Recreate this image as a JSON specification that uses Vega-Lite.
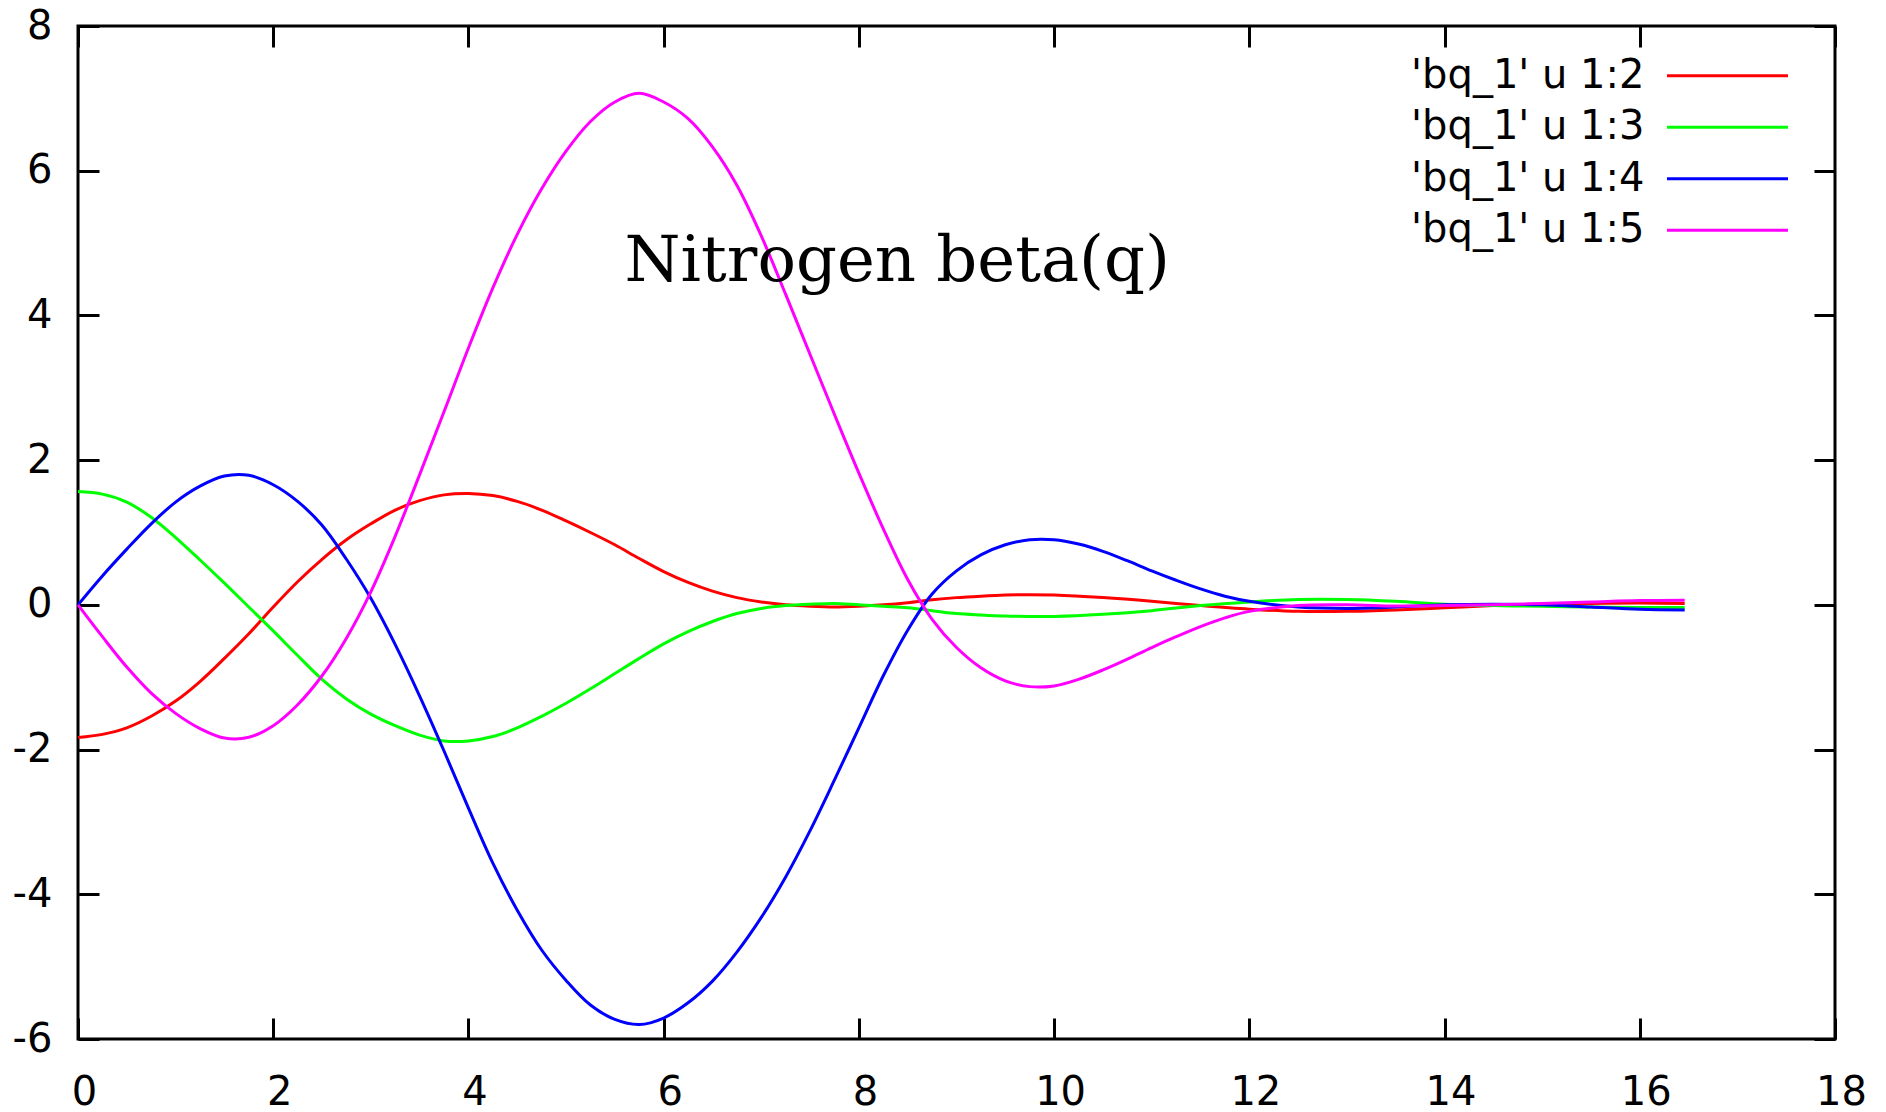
{
  "$schema": "https://vega.github.io/schema/vega-lite/v6.json",
  "width": 1757,
  "height": 1013,
  "autosize": {"type": "none"},
  "padding": {"left": 78, "top": 26, "right": 51, "bottom": 73},
  "background": "white",
  "config": {
    "view": {"stroke": "black", "strokeWidth": 3},
    "axis": {
      "domain": false, "grid": false, "title": null,
      "ticks": true, "tickSize": -21, "tickWidth": 3, "tickColor": "black",
      "labelFont": "DejaVu Sans", "labelFontSize": 40, "labelColor": "black",
      "labelFlush": false, "labelOverlap": false, "labelBound": false
    }
  },
  "datasets": {
    "curves": [
      {"s": "'bq_1' u 1:2", "q": 0, "v": -1.834},
      {"s": "'bq_1' u 1:2", "q": 0.25, "v": -1.79},
      {"s": "'bq_1' u 1:2", "q": 0.5, "v": -1.70},
      {"s": "'bq_1' u 1:2", "q": 0.75, "v": -1.54},
      {"s": "'bq_1' u 1:2", "q": 1, "v": -1.33},
      {"s": "'bq_1' u 1:2", "q": 1.25, "v": -1.06},
      {"s": "'bq_1' u 1:2", "q": 1.5, "v": -0.74},
      {"s": "'bq_1' u 1:2", "q": 1.75, "v": -0.40},
      {"s": "'bq_1' u 1:2", "q": 2, "v": -0.03},
      {"s": "'bq_1' u 1:2", "q": 2.25, "v": 0.32},
      {"s": "'bq_1' u 1:2", "q": 2.5, "v": 0.63},
      {"s": "'bq_1' u 1:2", "q": 2.75, "v": 0.90},
      {"s": "'bq_1' u 1:2", "q": 3, "v": 1.12},
      {"s": "'bq_1' u 1:2", "q": 3.25, "v": 1.31},
      {"s": "'bq_1' u 1:2", "q": 3.5, "v": 1.44},
      {"s": "'bq_1' u 1:2", "q": 3.75, "v": 1.52},
      {"s": "'bq_1' u 1:2", "q": 4, "v": 1.54},
      {"s": "'bq_1' u 1:2", "q": 4.25, "v": 1.51},
      {"s": "'bq_1' u 1:2", "q": 4.5, "v": 1.43},
      {"s": "'bq_1' u 1:2", "q": 4.75, "v": 1.31},
      {"s": "'bq_1' u 1:2", "q": 5, "v": 1.16},
      {"s": "'bq_1' u 1:2", "q": 5.25, "v": 1.00},
      {"s": "'bq_1' u 1:2", "q": 5.5, "v": 0.83},
      {"s": "'bq_1' u 1:2", "q": 5.75, "v": 0.64},
      {"s": "'bq_1' u 1:2", "q": 6, "v": 0.46},
      {"s": "'bq_1' u 1:2", "q": 6.25, "v": 0.31},
      {"s": "'bq_1' u 1:2", "q": 6.5, "v": 0.19},
      {"s": "'bq_1' u 1:2", "q": 6.75, "v": 0.10},
      {"s": "'bq_1' u 1:2", "q": 7, "v": 0.04},
      {"s": "'bq_1' u 1:2", "q": 7.25, "v": 0.0},
      {"s": "'bq_1' u 1:2", "q": 7.5, "v": -0.02},
      {"s": "'bq_1' u 1:2", "q": 7.75, "v": -0.03},
      {"s": "'bq_1' u 1:2", "q": 8, "v": -0.02},
      {"s": "'bq_1' u 1:2", "q": 8.25, "v": 0.0},
      {"s": "'bq_1' u 1:2", "q": 8.5, "v": 0.03},
      {"s": "'bq_1' u 1:2", "q": 8.75, "v": 0.07},
      {"s": "'bq_1' u 1:2", "q": 9, "v": 0.10},
      {"s": "'bq_1' u 1:2", "q": 9.25, "v": 0.12},
      {"s": "'bq_1' u 1:2", "q": 9.5, "v": 0.135},
      {"s": "'bq_1' u 1:2", "q": 9.75, "v": 0.14},
      {"s": "'bq_1' u 1:2", "q": 10, "v": 0.135},
      {"s": "'bq_1' u 1:2", "q": 10.5, "v": 0.10},
      {"s": "'bq_1' u 1:2", "q": 11, "v": 0.05},
      {"s": "'bq_1' u 1:2", "q": 11.5, "v": -0.01},
      {"s": "'bq_1' u 1:2", "q": 12, "v": -0.06},
      {"s": "'bq_1' u 1:2", "q": 12.5, "v": -0.09},
      {"s": "'bq_1' u 1:2", "q": 13, "v": -0.09},
      {"s": "'bq_1' u 1:2", "q": 13.5, "v": -0.07},
      {"s": "'bq_1' u 1:2", "q": 14, "v": -0.04},
      {"s": "'bq_1' u 1:2", "q": 14.5, "v": -0.01},
      {"s": "'bq_1' u 1:2", "q": 15, "v": 0.01},
      {"s": "'bq_1' u 1:2", "q": 15.5, "v": 0.02},
      {"s": "'bq_1' u 1:2", "q": 16, "v": 0.025},
      {"s": "'bq_1' u 1:2", "q": 16.46, "v": 0.02},

      {"s": "'bq_1' u 1:3", "q": 0, "v": 1.566},
      {"s": "'bq_1' u 1:3", "q": 0.25, "v": 1.53},
      {"s": "'bq_1' u 1:3", "q": 0.5, "v": 1.42},
      {"s": "'bq_1' u 1:3", "q": 0.75, "v": 1.21},
      {"s": "'bq_1' u 1:3", "q": 1, "v": 0.93},
      {"s": "'bq_1' u 1:3", "q": 1.25, "v": 0.62},
      {"s": "'bq_1' u 1:3", "q": 1.5, "v": 0.30},
      {"s": "'bq_1' u 1:3", "q": 1.75, "v": -0.03},
      {"s": "'bq_1' u 1:3", "q": 2, "v": -0.36},
      {"s": "'bq_1' u 1:3", "q": 2.25, "v": -0.70},
      {"s": "'bq_1' u 1:3", "q": 2.5, "v": -1.03},
      {"s": "'bq_1' u 1:3", "q": 2.75, "v": -1.30},
      {"s": "'bq_1' u 1:3", "q": 3, "v": -1.51},
      {"s": "'bq_1' u 1:3", "q": 3.25, "v": -1.67},
      {"s": "'bq_1' u 1:3", "q": 3.5, "v": -1.80},
      {"s": "'bq_1' u 1:3", "q": 3.75, "v": -1.88},
      {"s": "'bq_1' u 1:3", "q": 4, "v": -1.88},
      {"s": "'bq_1' u 1:3", "q": 4.25, "v": -1.82},
      {"s": "'bq_1' u 1:3", "q": 4.5, "v": -1.70},
      {"s": "'bq_1' u 1:3", "q": 4.75, "v": -1.54},
      {"s": "'bq_1' u 1:3", "q": 5, "v": -1.36},
      {"s": "'bq_1' u 1:3", "q": 5.25, "v": -1.16},
      {"s": "'bq_1' u 1:3", "q": 5.5, "v": -0.95},
      {"s": "'bq_1' u 1:3", "q": 5.75, "v": -0.74},
      {"s": "'bq_1' u 1:3", "q": 6, "v": -0.54},
      {"s": "'bq_1' u 1:3", "q": 6.25, "v": -0.37},
      {"s": "'bq_1' u 1:3", "q": 6.5, "v": -0.23},
      {"s": "'bq_1' u 1:3", "q": 6.75, "v": -0.12},
      {"s": "'bq_1' u 1:3", "q": 7, "v": -0.05},
      {"s": "'bq_1' u 1:3", "q": 7.25, "v": -0.01},
      {"s": "'bq_1' u 1:3", "q": 7.5, "v": 0.01},
      {"s": "'bq_1' u 1:3", "q": 7.75, "v": 0.02},
      {"s": "'bq_1' u 1:3", "q": 8, "v": 0.0},
      {"s": "'bq_1' u 1:3", "q": 8.25, "v": -0.02},
      {"s": "'bq_1' u 1:3", "q": 8.5, "v": -0.04},
      {"s": "'bq_1' u 1:3", "q": 8.75, "v": -0.08},
      {"s": "'bq_1' u 1:3", "q": 9, "v": -0.12},
      {"s": "'bq_1' u 1:3", "q": 9.25, "v": -0.14},
      {"s": "'bq_1' u 1:3", "q": 9.5, "v": -0.155},
      {"s": "'bq_1' u 1:3", "q": 9.75, "v": -0.16},
      {"s": "'bq_1' u 1:3", "q": 10, "v": -0.16},
      {"s": "'bq_1' u 1:3", "q": 10.5, "v": -0.13},
      {"s": "'bq_1' u 1:3", "q": 11, "v": -0.08},
      {"s": "'bq_1' u 1:3", "q": 11.5, "v": -0.01},
      {"s": "'bq_1' u 1:3", "q": 12, "v": 0.04},
      {"s": "'bq_1' u 1:3", "q": 12.5, "v": 0.075},
      {"s": "'bq_1' u 1:3", "q": 13, "v": 0.075},
      {"s": "'bq_1' u 1:3", "q": 13.5, "v": 0.05},
      {"s": "'bq_1' u 1:3", "q": 14, "v": 0.01},
      {"s": "'bq_1' u 1:3", "q": 14.5, "v": -0.01},
      {"s": "'bq_1' u 1:3", "q": 15, "v": -0.02},
      {"s": "'bq_1' u 1:3", "q": 15.5, "v": -0.03},
      {"s": "'bq_1' u 1:3", "q": 16, "v": -0.035},
      {"s": "'bq_1' u 1:3", "q": 16.46, "v": -0.035},

      {"s": "'bq_1' u 1:4", "q": 0, "v": 0},
      {"s": "'bq_1' u 1:4", "q": 0.25, "v": 0.40},
      {"s": "'bq_1' u 1:4", "q": 0.5, "v": 0.77},
      {"s": "'bq_1' u 1:4", "q": 0.75, "v": 1.12},
      {"s": "'bq_1' u 1:4", "q": 1, "v": 1.42},
      {"s": "'bq_1' u 1:4", "q": 1.25, "v": 1.64},
      {"s": "'bq_1' u 1:4", "q": 1.5, "v": 1.78},
      {"s": "'bq_1' u 1:4", "q": 1.75, "v": 1.79},
      {"s": "'bq_1' u 1:4", "q": 2, "v": 1.66},
      {"s": "'bq_1' u 1:4", "q": 2.25, "v": 1.43},
      {"s": "'bq_1' u 1:4", "q": 2.5, "v": 1.10},
      {"s": "'bq_1' u 1:4", "q": 2.75, "v": 0.63},
      {"s": "'bq_1' u 1:4", "q": 3, "v": 0.09},
      {"s": "'bq_1' u 1:4", "q": 3.25, "v": -0.55},
      {"s": "'bq_1' u 1:4", "q": 3.5, "v": -1.26},
      {"s": "'bq_1' u 1:4", "q": 3.75, "v": -2.02},
      {"s": "'bq_1' u 1:4", "q": 4, "v": -2.81},
      {"s": "'bq_1' u 1:4", "q": 4.25, "v": -3.57},
      {"s": "'bq_1' u 1:4", "q": 4.5, "v": -4.22},
      {"s": "'bq_1' u 1:4", "q": 4.75, "v": -4.77},
      {"s": "'bq_1' u 1:4", "q": 5, "v": -5.19},
      {"s": "'bq_1' u 1:4", "q": 5.25, "v": -5.53},
      {"s": "'bq_1' u 1:4", "q": 5.5, "v": -5.73},
      {"s": "'bq_1' u 1:4", "q": 5.75, "v": -5.80},
      {"s": "'bq_1' u 1:4", "q": 6, "v": -5.71},
      {"s": "'bq_1' u 1:4", "q": 6.25, "v": -5.50},
      {"s": "'bq_1' u 1:4", "q": 6.5, "v": -5.20},
      {"s": "'bq_1' u 1:4", "q": 6.75, "v": -4.80},
      {"s": "'bq_1' u 1:4", "q": 7, "v": -4.32},
      {"s": "'bq_1' u 1:4", "q": 7.25, "v": -3.76},
      {"s": "'bq_1' u 1:4", "q": 7.5, "v": -3.12},
      {"s": "'bq_1' u 1:4", "q": 7.75, "v": -2.42},
      {"s": "'bq_1' u 1:4", "q": 8, "v": -1.70},
      {"s": "'bq_1' u 1:4", "q": 8.25, "v": -0.98},
      {"s": "'bq_1' u 1:4", "q": 8.5, "v": -0.35},
      {"s": "'bq_1' u 1:4", "q": 8.75, "v": 0.15},
      {"s": "'bq_1' u 1:4", "q": 9, "v": 0.47},
      {"s": "'bq_1' u 1:4", "q": 9.25, "v": 0.69},
      {"s": "'bq_1' u 1:4", "q": 9.5, "v": 0.83},
      {"s": "'bq_1' u 1:4", "q": 9.75, "v": 0.90},
      {"s": "'bq_1' u 1:4", "q": 10, "v": 0.90},
      {"s": "'bq_1' u 1:4", "q": 10.25, "v": 0.84},
      {"s": "'bq_1' u 1:4", "q": 10.5, "v": 0.74},
      {"s": "'bq_1' u 1:4", "q": 10.75, "v": 0.61},
      {"s": "'bq_1' u 1:4", "q": 11, "v": 0.47},
      {"s": "'bq_1' u 1:4", "q": 11.25, "v": 0.34},
      {"s": "'bq_1' u 1:4", "q": 11.5, "v": 0.22},
      {"s": "'bq_1' u 1:4", "q": 11.75, "v": 0.12},
      {"s": "'bq_1' u 1:4", "q": 12, "v": 0.05},
      {"s": "'bq_1' u 1:4", "q": 12.5, "v": -0.03},
      {"s": "'bq_1' u 1:4", "q": 13, "v": -0.05},
      {"s": "'bq_1' u 1:4", "q": 13.5, "v": -0.03},
      {"s": "'bq_1' u 1:4", "q": 14, "v": 0.0},
      {"s": "'bq_1' u 1:4", "q": 14.5, "v": 0.01},
      {"s": "'bq_1' u 1:4", "q": 15, "v": 0.0},
      {"s": "'bq_1' u 1:4", "q": 15.5, "v": -0.03},
      {"s": "'bq_1' u 1:4", "q": 16, "v": -0.06},
      {"s": "'bq_1' u 1:4", "q": 16.46, "v": -0.07},

      {"s": "'bq_1' u 1:5", "q": 0, "v": 0},
      {"s": "'bq_1' u 1:5", "q": 0.25, "v": -0.44},
      {"s": "'bq_1' u 1:5", "q": 0.5, "v": -0.86},
      {"s": "'bq_1' u 1:5", "q": 0.75, "v": -1.22},
      {"s": "'bq_1' u 1:5", "q": 1, "v": -1.50},
      {"s": "'bq_1' u 1:5", "q": 1.25, "v": -1.71},
      {"s": "'bq_1' u 1:5", "q": 1.5, "v": -1.84},
      {"s": "'bq_1' u 1:5", "q": 1.75, "v": -1.83},
      {"s": "'bq_1' u 1:5", "q": 2, "v": -1.67},
      {"s": "'bq_1' u 1:5", "q": 2.25, "v": -1.38},
      {"s": "'bq_1' u 1:5", "q": 2.5, "v": -0.98},
      {"s": "'bq_1' u 1:5", "q": 2.75, "v": -0.46},
      {"s": "'bq_1' u 1:5", "q": 3, "v": 0.18},
      {"s": "'bq_1' u 1:5", "q": 3.25, "v": 0.95},
      {"s": "'bq_1' u 1:5", "q": 3.5, "v": 1.80},
      {"s": "'bq_1' u 1:5", "q": 3.75, "v": 2.67},
      {"s": "'bq_1' u 1:5", "q": 4, "v": 3.55},
      {"s": "'bq_1' u 1:5", "q": 4.25, "v": 4.38},
      {"s": "'bq_1' u 1:5", "q": 4.5, "v": 5.12},
      {"s": "'bq_1' u 1:5", "q": 4.75, "v": 5.75},
      {"s": "'bq_1' u 1:5", "q": 5, "v": 6.27},
      {"s": "'bq_1' u 1:5", "q": 5.25, "v": 6.68},
      {"s": "'bq_1' u 1:5", "q": 5.5, "v": 6.95},
      {"s": "'bq_1' u 1:5", "q": 5.75, "v": 7.07},
      {"s": "'bq_1' u 1:5", "q": 6, "v": 6.95},
      {"s": "'bq_1' u 1:5", "q": 6.25, "v": 6.72},
      {"s": "'bq_1' u 1:5", "q": 6.5, "v": 6.33},
      {"s": "'bq_1' u 1:5", "q": 6.75, "v": 5.80},
      {"s": "'bq_1' u 1:5", "q": 7, "v": 5.10},
      {"s": "'bq_1' u 1:5", "q": 7.25, "v": 4.29},
      {"s": "'bq_1' u 1:5", "q": 7.5, "v": 3.46},
      {"s": "'bq_1' u 1:5", "q": 7.75, "v": 2.63},
      {"s": "'bq_1' u 1:5", "q": 8, "v": 1.82},
      {"s": "'bq_1' u 1:5", "q": 8.25, "v": 1.05},
      {"s": "'bq_1' u 1:5", "q": 8.5, "v": 0.35},
      {"s": "'bq_1' u 1:5", "q": 8.75, "v": -0.20},
      {"s": "'bq_1' u 1:5", "q": 9, "v": -0.59},
      {"s": "'bq_1' u 1:5", "q": 9.25, "v": -0.87},
      {"s": "'bq_1' u 1:5", "q": 9.5, "v": -1.05},
      {"s": "'bq_1' u 1:5", "q": 9.75, "v": -1.13},
      {"s": "'bq_1' u 1:5", "q": 10, "v": -1.12},
      {"s": "'bq_1' u 1:5", "q": 10.25, "v": -1.03},
      {"s": "'bq_1' u 1:5", "q": 10.5, "v": -0.90},
      {"s": "'bq_1' u 1:5", "q": 10.75, "v": -0.75},
      {"s": "'bq_1' u 1:5", "q": 11, "v": -0.59},
      {"s": "'bq_1' u 1:5", "q": 11.25, "v": -0.44},
      {"s": "'bq_1' u 1:5", "q": 11.5, "v": -0.30},
      {"s": "'bq_1' u 1:5", "q": 11.75, "v": -0.18},
      {"s": "'bq_1' u 1:5", "q": 12, "v": -0.09},
      {"s": "'bq_1' u 1:5", "q": 12.5, "v": -0.01},
      {"s": "'bq_1' u 1:5", "q": 13, "v": 0.0},
      {"s": "'bq_1' u 1:5", "q": 13.5, "v": -0.015},
      {"s": "'bq_1' u 1:5", "q": 14, "v": -0.01},
      {"s": "'bq_1' u 1:5", "q": 14.5, "v": 0.0},
      {"s": "'bq_1' u 1:5", "q": 15, "v": 0.02},
      {"s": "'bq_1' u 1:5", "q": 15.5, "v": 0.04},
      {"s": "'bq_1' u 1:5", "q": 16, "v": 0.06},
      {"s": "'bq_1' u 1:5", "q": 16.46, "v": 0.065}
    ],
    "label": [{"q": 5.6, "v": 4.48, "text": "Nitrogen beta(q)"}]
  },
  "layer": [
    {
      "data": {"name": "curves"},
      "mark": {"type": "line", "strokeWidth": 3, "interpolate": "catmull-rom"},
      "encoding": {
        "x": {
          "field": "q", "type": "quantitative",
          "scale": {"domain": [0, 18], "nice": false, "zero": false},
          "axis": {"orient": "bottom", "values": [0, 2, 4, 6, 8, 10, 12, 14, 16, 18], "labelPadding": 54, "labelOffset": 6}
        },
        "y": {
          "field": "v", "type": "quantitative",
          "scale": {"domain": [-6, 8], "nice": false, "zero": false},
          "axis": {"orient": "left", "values": [-6, -4, -2, 0, 2, 4, 6, 8], "labelPadding": 47, "labelExpr": "'' + datum.value"}
        },
        "color": {
          "field": "s", "type": "nominal",
          "scale": {
            "domain": ["'bq_1' u 1:2", "'bq_1' u 1:3", "'bq_1' u 1:4", "'bq_1' u 1:5"],
            "range": ["#ff0000", "#00ff00", "#0000ff", "#ff00ff"]
          },
          "legend": {
            "orient": "none", "legendX": 1629.5, "legendY": 29.8,
            "title": null, "padding": 0,
            "symbolType": "M-5,0H5", "symbolSize": 585.6, "symbolStrokeWidth": 3,
            "labelAlign": "right", "labelOffset": -103,
            "labelFont": "DejaVu Sans", "labelFontSize": 40, "labelColor": "black",
            "labelLimit": 0, "rowPadding": 11.5
          }
        }
      }
    },
    {
      "data": {"name": "label"},
      "mark": {"type": "text", "font": "DejaVu Serif", "fontSize": 64, "align": "left", "baseline": "alphabetic", "color": "black"},
      "encoding": {
        "x": {
          "field": "q", "type": "quantitative",
          "axis": {"orient": "top", "labels": false, "values": [0, 2, 4, 6, 8, 10, 12, 14, 16, 18]}
        },
        "y": {
          "field": "v", "type": "quantitative",
          "axis": {"orient": "right", "labels": false, "values": [-6, -4, -2, 0, 2, 4, 6, 8]}
        },
        "text": {"field": "text"}
      }
    }
  ],
  "resolve": {"axis": {"x": "independent", "y": "independent"}}
}
